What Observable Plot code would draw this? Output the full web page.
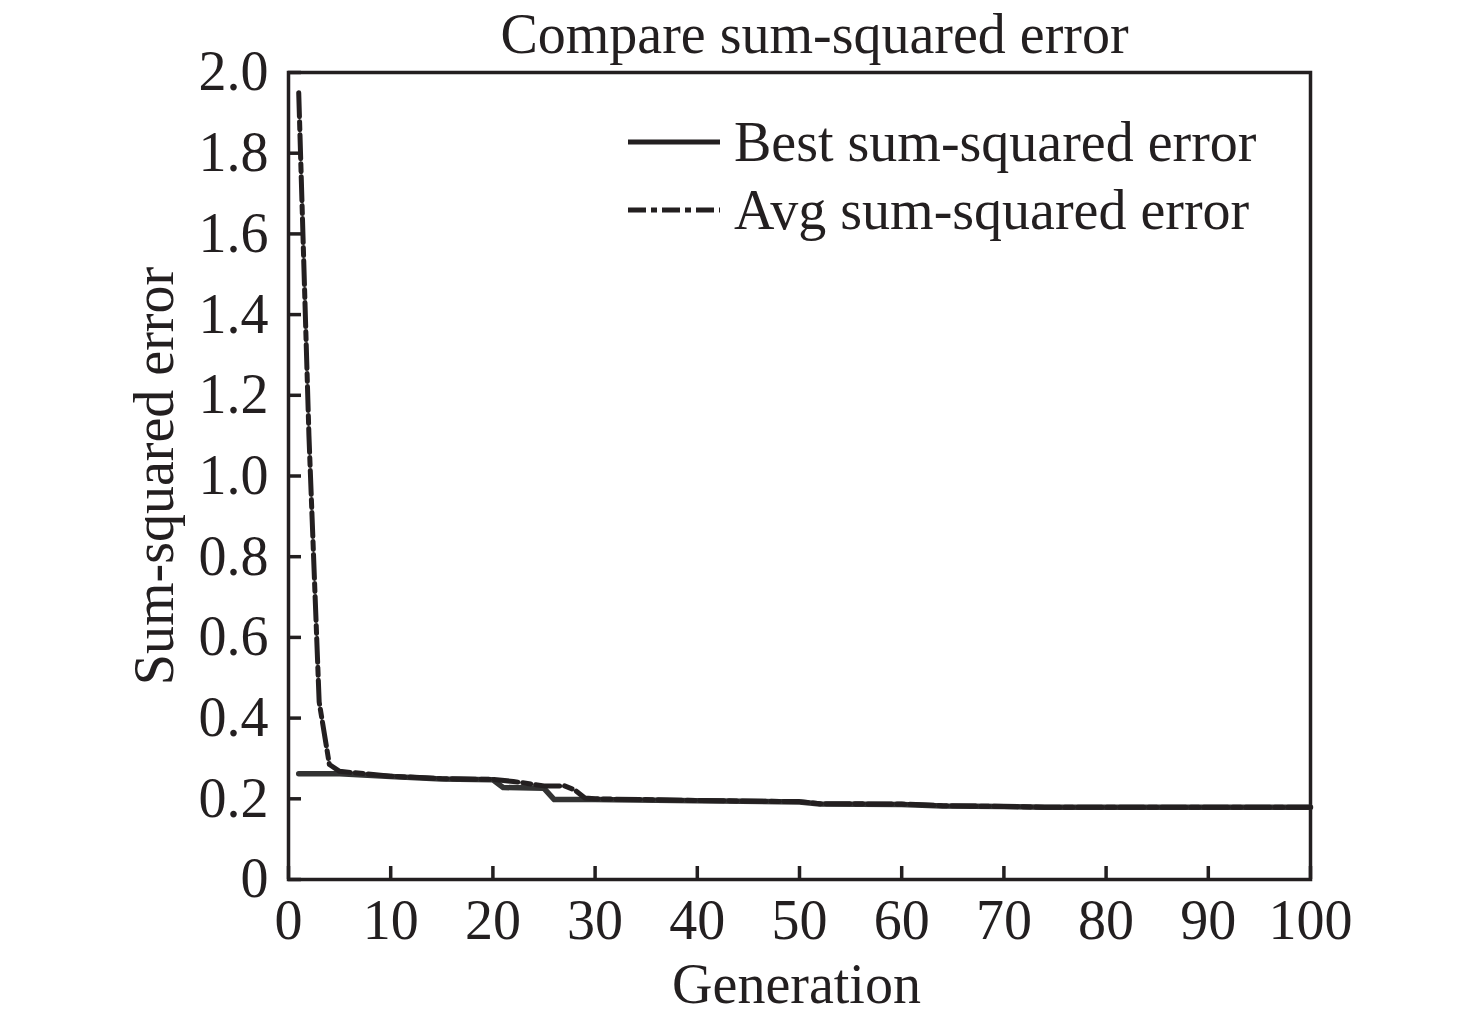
<!DOCTYPE html>
<html><head><meta charset="utf-8">
<script src="https://cdn.jsdelivr.net/npm/d3@7"></script>
<script src="https://cdn.jsdelivr.net/npm/@observablehq/plot@0.6"></script>
<style>
body{margin:0;background:#fff;}
#wrap{position:relative;width:1476px;height:1024px;font-family:"Liberation Serif","Times New Roman",serif;color:#231f20;}
#legend{position:absolute;left:628px;top:108px;font-size:56px;line-height:68px;}
#legend div{display:flex;align-items:center;white-space:nowrap;}
#legend svg{margin-right:14px;}
</style></head>
<body><div id="wrap"><div id="chart"></div><div id="legend"></div></div>
<script>
const titleText = "Compare sum-squared error";
const xLabel = "Generation";
const yLabel = "Sum-squared error";
const seriesNames = ["Best sum-squared error", "Avg sum-squared error"];
const xTicks = [0,10,20,30,40,50,60,70,80,90,100];
const yTicks = [0,0.2,0.4,0.6,0.8,1.0,1.2,1.4,1.6,1.8,2.0];

const bestGen = [1, 5, 10, 15, 20, 21, 25, 26, 30, 40, 50, 52, 60, 64, 70, 74, 80, 90, 100];
const bestVal = [0.262, 0.262, 0.255, 0.249, 0.247, 0.228, 0.226, 0.198, 0.198, 0.195, 0.192, 0.187, 0.186, 0.182, 0.181, 0.179, 0.179, 0.179, 0.179];

const avgGen = [1, 2, 3, 4, 5, 10, 15, 20, 22, 25, 27, 28, 29, 30, 40, 50, 52, 60, 64, 70, 74, 80, 90, 100];
const avgVal = [1.95, 1.1, 0.44, 0.285, 0.268, 0.256, 0.25, 0.248, 0.243, 0.232, 0.232, 0.222, 0.202, 0.2, 0.196, 0.193, 0.188, 0.187, 0.183, 0.181, 0.179, 0.179, 0.179, 0.179];

const best = bestGen.map((g,i)=>({x:g,y:bestVal[i]}));
const avg = avgGen.map((g,i)=>({x:g,y:avgVal[i]}));
const ink = "#231f20";
const dash = "24,5,8,5";
const fs = 56;

const chart = Plot.plot({
  width: 1476, height: 1024,
  marginLeft: 288, marginRight: 166, marginTop: 72, marginBottom: 145,
  style: {fontFamily: '"Liberation Serif","Times New Roman",serif', fontSize: fs + "px", color: ink, background: "#fff"},
  x: {domain: [0,100]},
  y: {domain: [0,2]},
  marks: [
    Plot.axisX({ticks: xTicks, tickSize: -13, tickPadding: 33, tickFormat: d=>String(d), strokeWidth: 3.5, stroke: ink, fill: ink, fontSize: fs, label: null}),
    Plot.axisY({ticks: yTicks, tickSize: -13, tickPadding: 33, tickFormat: d=> d===0 ? "0" : d.toFixed(1), strokeWidth: 3.5, stroke: ink, fill: ink, fontSize: fs, label: null}),
    Plot.frame({stroke: ink, strokeWidth: 3.5}),
    Plot.line(best, {x:"x", y:"y", stroke: "#333", strokeWidth: 5.5}),
    Plot.line(avg, {x:"x", y:"y", stroke: ink, strokeWidth: 5, strokeDasharray: dash}),
    Plot.text([titleText], {frameAnchor: "top", lineAnchor: "middle", dy: -37, dx: 15, fontSize: fs, fill: ink}),
    Plot.text([xLabel], {frameAnchor: "bottom", lineAnchor: "middle", dy: 106, dx: -3, fontSize: fs, fill: ink}),
    Plot.text([yLabel], {frameAnchor: "left", textAnchor: "middle", lineAnchor: "middle", dx: -133, rotate: -90, fontSize: fs, fill: ink})
  ]
});
document.getElementById("chart").appendChild(chart);

const leg = document.getElementById("legend");
seriesNames.forEach((n,i)=>{
  const d = document.createElement("div");
  d.innerHTML = `<svg width="92" height="12"><line x1="0" x2="92" y1="6" y2="6" stroke="${ink}" stroke-width="5" ${i===1?`stroke-dasharray="18,5,6,5"`:""}/></svg><span>${n}</span>`;
  leg.appendChild(d);
});
</script></body></html>
